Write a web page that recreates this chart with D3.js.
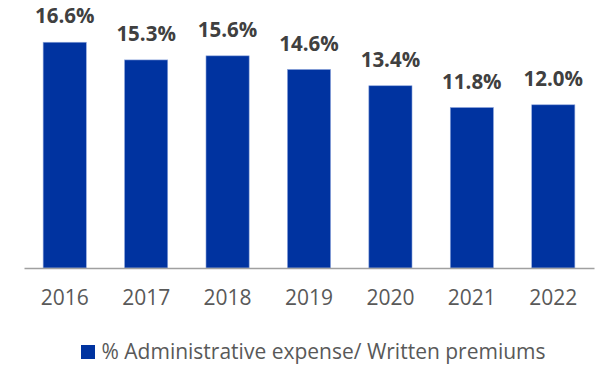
<!DOCTYPE html>
<html>
<head>
<meta charset="utf-8">
<script src="https://cdn.jsdelivr.net/npm/d3@7/dist/d3.min.js"></script>
<style>
  html, body { margin: 0; padding: 0; background: #ffffff; }
  svg { display: block; }
</style>
</head>
<body>
<svg id="chart" width="595" height="365"></svg>
<script>
// Administrative expense as a share of written premiums, by year
const years = ["2016", "2017", "2018", "2019", "2020", "2021", "2022"];
const expenseRatio = [16.6, 15.3, 15.6, 14.6, 13.4, 11.8, 12.0];
const seriesName = "% Administrative expense/ Written premiums";

const W = 595, H = 365;
const plot = { left: 24, right: 594, top: -4, bottom: 268 };
const barColor = "#0033a0";

const svg = d3.select("#chart");

const x = d3.scaleBand()
  .domain(years)
  .range([plot.left, plot.right])
  .paddingInner(0.47)
  .paddingOuter(0.235);

const y = d3.scaleLinear()
  .domain([0, 20])
  .range([plot.bottom, plot.top]);

// bars
svg.append("g")
  .selectAll("rect")
  .data(years)
  .join("rect")
  .attr("x", (d) => x(d))
  .attr("width", x.bandwidth())
  .attr("y", (d, i) => y(expenseRatio[i]))
  .attr("height", (d, i) => y(0) - y(expenseRatio[i]))
  .attr("fill", barColor)
  .attr("stroke", "#8ea6dc")
  .attr("stroke-width", 0.6);

// value labels
svg.append("g")
  .selectAll("text")
  .data(years)
  .join("text")
  .attr("x", (d) => x(d) + x.bandwidth() / 2)
  .attr("y", (d, i) => y(expenseRatio[i]) - 18.8)
  .attr("text-anchor", "middle")
  .attr("font-family", "'Open Sans', sans-serif")
  .attr("font-weight", 700)
  .attr("font-size", 20.5)
  .attr("fill", "#404040")
  .text((d, i) => expenseRatio[i].toFixed(1) + "%");

// category axis
const xAxis = svg.append("g")
  .attr("transform", `translate(0,${plot.bottom})`)
  .call(d3.axisBottom(x).tickSize(0).tickPadding(22));
xAxis.select(".domain")
  .attr("stroke", "#a0a0a0")
  .attr("stroke-width", 1.5);
xAxis.selectAll("text")
  .attr("font-family", "'Open Sans', sans-serif")
  .attr("font-size", 21)
  .attr("fill", "#595959")
  .attr("dy", "0.71em");

// legend
const legend = svg.append("g").attr("transform", "translate(81,345)");
legend.append("rect")
  .attr("width", 14)
  .attr("height", 14)
  .attr("fill", barColor);
legend.append("text")
  .attr("x", 20.5)
  .attr("y", 13.5)
  .attr("font-family", "'Open Sans', sans-serif")
  .attr("font-size", 21)
  .attr("fill", "#595959")
  .text(seriesName);
</script>
</body>
</html>
